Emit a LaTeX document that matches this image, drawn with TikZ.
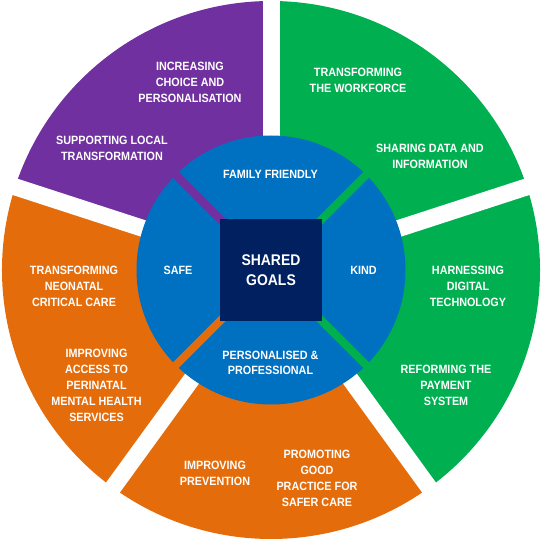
\documentclass[tikz,border=0pt]{standalone}
\usepackage{fontspec}
\setmainfont{Liberation Sans}[FakeStretch=0.9]
\definecolor{deepPurple}{RGB}{112, 48, 160}
\definecolor{brightGreen}{RGB}{0, 176, 80}
\definecolor{burntOrange}{RGB}{228, 108, 10}
\definecolor{midBlue}{RGB}{0, 112, 192}
\definecolor{darkNavy}{RGB}{0, 32, 96}
\usetikzlibrary{calc,positioning}

\begin{document}
\begin{tikzpicture}[x=1pt,y=1pt,
        goaltext/.style={font=\bfseries\fontsize{12}{16}\selectfont,text=white,align=center,inner sep=0pt},
        gapline/.style={white,line width=17pt},
        splitline/.style={line width=8pt}]
    \useasboundingbox (0,0) rectangle (542,542);
    \coordinate (c) at (271,272);
    % outer ring
    \fill[brightGreen] (c) -- ++(18:269) arc[start angle=18,end angle=90,radius=269] -- cycle;
    \fill[deepPurple] (c) -- ++(90:269) arc[start angle=90,end angle=162,radius=269] -- cycle;
    \fill[burntOrange] (c) -- ++(162:269) arc[start angle=162,end angle=234,radius=269] -- cycle;
    \fill[burntOrange] (c) -- ++(234:269) arc[start angle=234,end angle=306,radius=269] -- cycle;
    \fill[brightGreen] (c) -- ++(306:269) arc[start angle=306,end angle=378,radius=269] -- cycle;
    \foreach \a in {18,90,162,234,306}
        \draw[gapline] (c) -- ++(\a:285);
    % inner circle
    \fill[midBlue] (c) circle[radius=134.5];
    \draw[splitline,brightGreen] (c) -- ++(45:140);
    \draw[splitline,deepPurple] (c) -- ++(135:140);
    \draw[splitline,burntOrange] (c) -- ++(225:140);
    \draw[splitline,brightGreen] (c) -- ++(315:140);
    \node[fill=darkNavy,minimum size=102pt,inner sep=0pt,text=white,align=center,
          font=\bfseries\fontsize{15.5}{20.5}\selectfont] (goals) at (c) {SHARED\\GOALS};
    % inner labels
    \node[goaltext] (family) at (270.5,367.5) {FAMILY FRIENDLY};
    \node[goaltext] (safe) at (178,272) {SAFE};
    \node[goaltext] (kind) at (363.5,272) {KIND};
    \node[goaltext,font=\bfseries\fontsize{12}{15}\selectfont] (personal) at (270.5,179) {PERSONALISED \&\\PROFESSIONAL};
    % outer labels
    \node[goaltext] (choice) at (190,460) {INCREASING\\CHOICE AND\\PERSONALISATION};
    \node[goaltext] (local) at (112,393.5) {SUPPORTING LOCAL\\TRANSFORMATION};
    \node[goaltext] (workforce) at (358,462) {TRANSFORMING\\THE WORKFORCE};
    \node[goaltext] (sharing) at (430,386) {SHARING DATA AND\\INFORMATION};
    \node[goaltext] (digital) at (468,256) {HARNESSING\\DIGITAL\\TECHNOLOGY};
    \node[goaltext] (payment) at (446,157) {REFORMING THE\\PAYMENT\\SYSTEM};
    \node[goaltext] (practice) at (317,64) {PROMOTING\\GOOD\\PRACTICE FOR\\SAFER CARE};
    \node[goaltext] (prevention) at (215,69) {IMPROVING\\PREVENTION};
    \node[goaltext] (neonatal) at (74,256) {TRANSFORMING\\NEONATAL\\CRITICAL CARE};
    \node[goaltext] (perinatal) at (96.5,157) {IMPROVING\\ACCESS TO\\PERINATAL\\MENTAL HEALTH\\SERVICES};
\end{tikzpicture}
\end{document}
